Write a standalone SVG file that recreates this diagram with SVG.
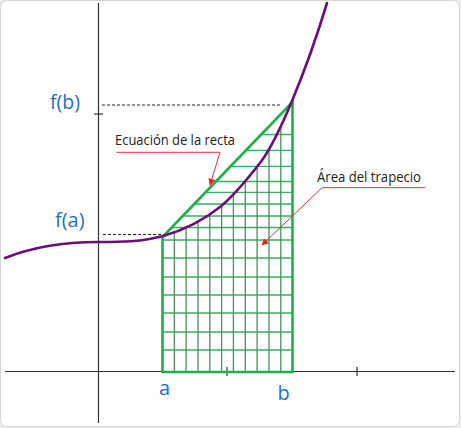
<svg xmlns="http://www.w3.org/2000/svg" width="461" height="428" viewBox="0 0 461 428">
  <style>
    .axis { stroke: #333; stroke-width: 1.2; fill: none; }
    .dash { stroke: #222; stroke-width: 1; stroke-dasharray: 3 2; fill: none; }
    .curve { stroke: #6a0d7a; stroke-width: 2.6; fill: none; stroke-linecap: round; }
    .trap { stroke: #1db04b; stroke-width: 2.6; fill: none; stroke-linejoin: miter; }
    .hgrid { stroke: #3aae62; stroke-width: 1.3; }
    .vgrid { stroke: #4b8f5d; stroke-width: 1.3; }
    .lbl { font-family: "Open Sans", "Liberation Sans", Arial, sans-serif; fill: #1f6fbf; }
    .note { font-family: "Open Sans", "Liberation Sans", Arial, sans-serif; fill: #222; font-size: 14px; }
    .pointer { stroke: #e0303a; stroke-width: 1; fill: none; }
  </style>
  <defs>
    <marker id="arr" viewBox="0 0 10 10" refX="9" refY="5" markerWidth="7" markerHeight="7" orient="auto" markerUnits="userSpaceOnUse">
      <path d="M0,0 L10,5 L0,10 Z" fill="#ff1a1a"/>
    </marker>
    <clipPath id="trapClip">
      <polygon points="162.5,237 292.5,102 292.5,372 162.5,372"/>
    </clipPath>
    <clipPath id="underCurve">
      <path d="M163,236 C182,230.7 201,222.2 220,207 C233.3,196.3 246.7,180 260,163 C270.7,149.3 281.3,126.6 292,101 L292.5,372 L162.5,372 Z"/>
    </clipPath>
  </defs>

  <rect x="0" y="0" width="461" height="428" fill="#ececec"/>
  <rect x="0.5" y="0.5" width="459" height="426" rx="7" fill="#ffffff" stroke="#d6d6d6"/>

  <g id="axes">
    <line class="axis" x1="5" y1="371.5" x2="455" y2="371.5"/>
    <line class="axis" x1="98.5" y1="3" x2="98.5" y2="423"/>
    <line class="axis" x1="227" y1="367" x2="227" y2="376"/>
    <line class="axis" x1="357" y1="367" x2="357" y2="376"/>
    <line class="axis" x1="94" y1="114" x2="103" y2="114"/>
  </g>

  <g id="guides">
    <line class="dash" x1="102" y1="105" x2="282" y2="105"/>
    <line class="dash" x1="103" y1="234.5" x2="161" y2="234.5"/>
  </g>

  <g id="trapecio">
    <g clip-path="url(#trapClip)">
      <line class="hgrid" x1="150" y1="350" x2="300" y2="350"/>
      <line class="hgrid" x1="150" y1="332" x2="300" y2="332"/>
      <line class="hgrid" x1="150" y1="313" x2="300" y2="313"/>
      <line class="hgrid" x1="150" y1="295" x2="300" y2="295"/>
      <line class="hgrid" x1="150" y1="277" x2="300" y2="277"/>
      <line class="hgrid" x1="150" y1="258" x2="300" y2="258"/>
      <line class="hgrid" x1="150" y1="240" x2="300" y2="240"/>
      <line class="hgrid" x1="150" y1="227.5" x2="300" y2="227.5"/>
      <line class="hgrid" x1="150" y1="216" x2="300" y2="216"/>
      <line class="hgrid" x1="150" y1="204" x2="300" y2="204"/>
      <line class="hgrid" x1="150" y1="192.3" x2="300" y2="192.3"/>
      <line class="hgrid" x1="150" y1="181.5" x2="300" y2="181.5"/>
      <line class="hgrid" x1="150" y1="166.3" x2="300" y2="166.3"/>
      <line class="hgrid" x1="150" y1="150.3" x2="300" y2="150.3"/>
      <line class="hgrid" x1="150" y1="134.5" x2="300" y2="134.5"/>
    </g>
    <g clip-path="url(#underCurve)">
      <line class="vgrid" x1="174.3" y1="100" x2="174.3" y2="372"/>
      <line class="vgrid" x1="186.1" y1="100" x2="186.1" y2="372"/>
      <line class="vgrid" x1="198" y1="100" x2="198" y2="372"/>
      <line class="vgrid" x1="209.8" y1="100" x2="209.8" y2="372"/>
      <line class="vgrid" x1="221.6" y1="100" x2="221.6" y2="372"/>
      <line class="vgrid" x1="233.4" y1="100" x2="233.4" y2="372"/>
      <line class="vgrid" x1="245.3" y1="100" x2="245.3" y2="372"/>
      <line class="vgrid" x1="257.1" y1="100" x2="257.1" y2="372"/>
      <line class="vgrid" x1="269" y1="100" x2="269" y2="372"/>
      <line class="vgrid" x1="280.8" y1="100" x2="280.8" y2="372"/>
    </g>
    <polygon class="trap" points="162.5,237 292.5,102 292.5,372 162.5,372"/>
  </g>

  <g id="curva">
    <path class="curve" d="M5,258 C36,245.6 67,242 98,242 C119.7,242 141.3,242.1 163,236 C182,230.7 201,222.2 220,207 C233.3,196.3 246.7,180 260,163 C270.7,149.3 281.3,126.6 292,101 C303.7,73 315.3,41.6 327,3"/>
  </g>

  <g id="labels">
    <text class="lbl" x="50" y="108.5" font-size="20" textLength="30" lengthAdjust="spacingAndGlyphs">f(b)</text>
    <text class="lbl" x="55" y="227" font-size="20" textLength="29.5" lengthAdjust="spacingAndGlyphs">f(a)</text>
    <text class="lbl" x="159" y="395" font-size="20">a</text>
    <text class="lbl" x="277.5" y="400" font-size="20">b</text>
  </g>

  <g id="nota-recta">
    <text class="note" x="115" y="145" textLength="120" lengthAdjust="spacingAndGlyphs">Ecuación de la recta</text>
  </g>
  <g id="nota-area">
    <text class="note" x="317" y="182" textLength="104" lengthAdjust="spacingAndGlyphs">Área del trapecio</text>
  </g>

  <g id="connectors">
    <polyline class="pointer" points="116.5,152.3 220,152.3 210,185" marker-end="url(#arr)"/>
    <polyline class="pointer" points="425,187.7 322,187.7 262,245" marker-end="url(#arr)"/>
  </g>
</svg>
